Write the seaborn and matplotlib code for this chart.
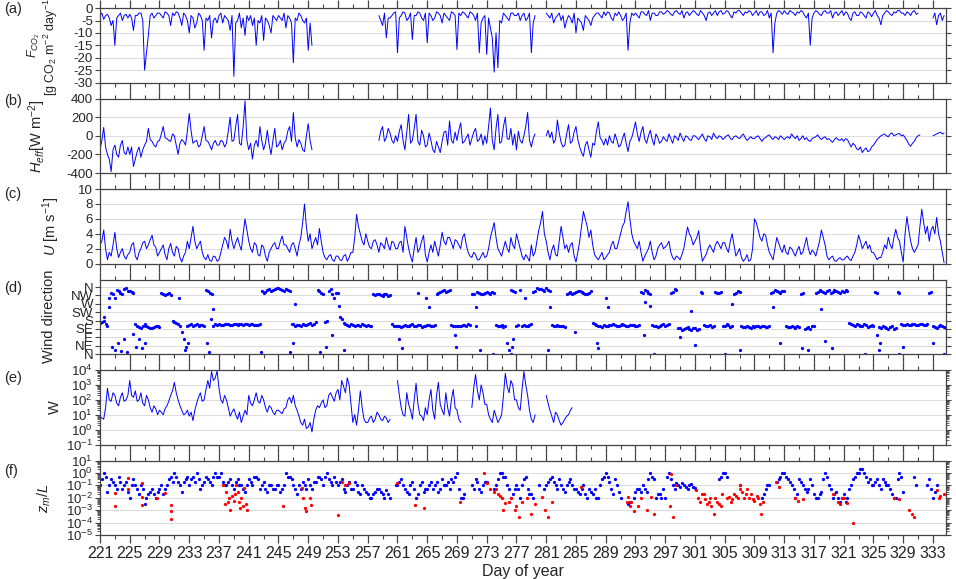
import numpy as np
import pandas as pd
import matplotlib
matplotlib.use("Agg")
import matplotlib.pyplot as plt
from matplotlib.ticker import FixedLocator, LogLocator, NullFormatter
import seaborn as sns

nan = np.nan

# half-day samples of the record, day of year 221 .. 334.5
day = np.arange(221, 334.75, 0.5)
# the same samples shifted by a quarter day
day_q = day + 0.25

# (a) CO2 flux [g CO2 m-2 day-1]
fco2 = [
    -3, -4.5, -2.5, -7, -15, -3, -5, -2.5,          # 221
    -2.5, -9, -3, -2, -25, -11, -2, -3,             # 225
    -2, -4, -2, -7, -3, -2, -7, -3,                 # 229
    -10, -4, -6, -3, -17, -5, -12, -4,              # 233
    -3, -6, -4, -9, -27.5, -5, -8, -11,             # 237
    -5, -7, -15, -6, -13, -5, -10, -4,              # 241
    -3, -5, -8, -4, -22, -5, -3, -6,                # 245
    -17, -15, nan, nan, nan, nan, nan, nan,         # 249
    nan, nan, nan, nan, nan, nan, nan, nan,         # 253
    nan, nan, nan, -3, -7, -12, -4, -2,             # 257
    -18, -3, -2, -4, -12.7, -3, -2, -5,             # 261
    -14, -3, -4, -2, -6, -3, -5, -2,                # 265
    -16.7, -3, -2, -4, -2, -5, -18, -4,             # 269
    -18.7, -8, -25.8, -24, -6, -3, -5, -2,          # 273
    -3, -5, -2, -4, -18, -3, nan, nan,              # 277
    -2, -4, -6, -3, -5, -8, -3, -6,                 # 281
    -10, -5, -9, -4, -7, -3, -2, -4,                # 285
    -3, -2, -5, -3, -3, -4, -17, -2,                # 289
    -2, -4, -1.5, -3, -5, -2, -3, -1.5,             # 293
    -2, -1.5, -3, -1, -2.5, -4, -1.5, -2,           # 297
    -1.5, -3, -2, -5, -1.5, -2, -3, -1,             # 301
    -2, -1.5, -4, -2, -1, -3, -2, -1.5,             # 305
    -2, -3, -1.5, -2.5, -4, -18, -2, -1.5,          # 309
    -1, -2.5, -1.5, -3, -2, -1.5, -4, -15,          # 313
    -2, -1.5, -3, -1, -2, -4, -1.5, -2,             # 317
    -3, -2, -5, -1.5, -3, -2, -4, -2,               # 321
    -2, -3, -6.7, -2, -1.5, -3, -2, -1,             # 325
    -2, -1.5, -3, -1, -2, nan, nan, nan,            # 329
    -4, -6.7, -2, -3,                               # 333
]
fco2_q = [
    -2, -3, -4, -5, -4, -2, -3, -4,
    -4, -3, -2, -5, -18, -3, -4, -2,
    -3, -1.5, -3, -2, -1.5, -4, -2, -5,
    -3, -8, -2, -5, -4, -3, -5, -6,
    -2, -3, -5, -3, -6, -2, -4, -3,
    -3, -4, -5, -3, -4, -7, -3, -5,
    -4, -2, -3, -6, -4, -2, -5, -4,
    -6, nan, nan, nan, nan, nan, nan, nan,
    nan, nan, nan, nan, nan, nan, nan, nan,
    nan, nan, nan, -5, -2, -4, -3, -1.5,
    -4, -1.5, -5, -2, -3, -1.5, -4, -2,
    -2, -5, -1.5, -3, -2, -4, -1.5, -3,
    -2, -1.5, -3, -1.5, -3, -2, -6, -3,
    -4, -12, -10, -5, -2, -4, -2, -3,
    -2, -3, -5, -2, -6, nan, nan, nan,
    -3, -2, -4, -2, -3, -5, -4, -2,
    -4, -6, -3, -5, -4, -2, -3, -1.5,
    -1.5, -4, -2, -1.5, -5, -2, -6, -3,
    -3, -1.5, -2.5, -1, -2, -3, -1.5, -2.5,
    -1, -2.5, -1.5, -2, -1, -2, -3, -1,
    -2.5, -1, -3, -2, -3, -1, -1.5, -2.5,
    -1, -3, -1.5, -1, -2, -1.5, -1, -3,
    -1, -1.5, -3, -1, -2, -6, -1, -2.5,
    -2, -1, -2, -1.5, -1, -3, -2, -4,
    -1, -2.5, -1.5, -2, -1, -2, -3, -1,
    -1.5, -4, -2, -3, -1.5, -3, -1.5, -3.5,
    -1, -4, -3, -1, -2.5, -1.5, -1, -2,
    -3, -2, -1.5, -2.5, nan, nan, nan, nan,
    -2, -3, -5, nan,
]

# (b) effective sensible heat flux [W m-2]
h_eff = [
    -150, 90, -200, -385, -100, -230, -50, -200,
    -200, -330, -170, -230, -100, 80, -60, -120,
    -50, 100, -30, -60, 0, -200, -40, -100,
    240, -80, -50, -100, 100, -60, -150, -50,
    -100, -60, -80, 200, -50, 230, -100, 375,
    -150, -250, -50, 100, -150, 60, -200, 80,
    -100, -150, -50, 100, 250, -120, -80, -170,
    130, -150, nan, nan, nan, nan, nan, nan,
    nan, nan, nan, nan, nan, nan, nan, nan,
    nan, nan, nan, -50, 100, -20, 30, -80,
    -60, 120, -150, 230, -50, 230, -100, 0,
    -100, -50, -180, -120, -60, 50, 160, -80,
    -50, 140, -60, 20, -30, 80, -40, -100,
    -80, 300, -150, 230, -60, 200, -40, -100,
    -150, -50, 0, 250, -120, 20, nan, nan,
    0, -20, -80, 170, -70, -100, 120, -60,
    100, -120, -220, -60, -230, -100, 150, -50,
    -30, 0, -80, -40, -100, 30, -170, -20,
    150, -60, 100, -80, 60, -100, -20, -60,
    -40, 20, -80, -20, 30, -60, -10, -50,
    0, -40, 20, -60, -10, 30, -30, -10,
    -20, 10, -40, 0, -30, 20, -50, -10,
    -30, 0, -60, -20, 10, -40, -20, 0,
    -40, -10, 20, -30, -50, 0, -20, -60,
    -20, 10, -40, -10, -30, -70, -20, -50,
    -60, -40, -120, -100, -150, -180, -130, -160,
    -100, -40, 0, 20, -10, 30, 10, 25,
    10, -50, -112, -60, 0, nan, nan, nan,
    0, 20, 40, 30,
]
h_eff_q = [
    -50, -120, -250, -150, -200, -100, -180, -120,
    -120, -250, -120, -150, -60, -40, -100, -60,
    20, -20, -50, 20, -100, -80, -60, 50,
    50, -60, -120, 0, -50, -100, -80, -100,
    -50, -120, 50, -60, 100, -80, 100, -50,
    -80, -100, -120, -50, -80, -100, -50, -120,
    -50, -80, 50, -60, -20, -40, -150, 0,
    -50, nan, nan, nan, nan, nan, nan, nan,
    nan, nan, nan, nan, nan, nan, nan, nan,
    nan, nan, nan, 50, -60, 80, -50, 0,
    50, -50, 40, -80, 80, -60, 60, -120,
    30, -150, -60, -180, 40, -100, -50, 40,
    60, -80, -20, -100, 40, -60, 20, 0,
    100, -50, 80, -80, 100, -30, 80, 20,
    50, -80, 100, -50, -30, nan, nan, nan,
    60, 40, -40, 30, -120, 20, -80, 40,
    -40, -180, -100, -150, -80, 50, -20, -100,
    -100, -60, 20, -120, -30, -80, -60, 60,
    20, 40, -40, 0, -40, 20, -80, -10,
    -60, -30, 0, -50, -20, 0, -40, 0,
    -20, -10, -30, 0, -40, -10, 0, -40,
    0, -30, -10, -20, 0, -20, -30, -30,
    -10, -30, -30, 0, -20, -10, -40, -20,
    -20, -30, -10, 0, -30, -40, -50, -30,
    -10, -20, -20, -40, -50, -40, -40, -30,
    -30, -80, -80, -140, -120, -150, -170, -120,
    -70, -20, 10, 0, 20, 0, 20, 0,
    -20, -90, -80, -20, 10, nan, nan, nan,
    10, 30, 20, nan,
]

# (c) wind speed [m s-1]
u = [
    2.5, 4.5, 0.5, 1.0, 4.2, 0.8, 2.0, 0.6,
    1.5, 2.8, 0.5, 2.0, 3.0, 2.5, 3.8, 2.2,
    1.5, 2.5, 0.5, 2.7, 1.0, 2.0, 0.2, 1.5,
    2.0, 5.0, 2.0, 3.0, 0.8, 1.2, 0.3, 0.9,
    0.5, 2.5, 3.0, 4.6, 2.0, 3.5, 1.8, 6.0,
    3.0, 1.5, 2.5, 1.0, 2.2, 0.3, 2.0, 2.8,
    2.0, 3.7, 2.5, 1.5, 2.8, 1.0, 3.5, 8.0,
    3.0, 2.0, 3.5, 4.7, 1.5, 0.5, 1.2, 0.3,
    1.0, 0.4, 1.2, 0.8, 1.5, 6.6, 4.0, 2.5,
    3.0, 2.0, 3.2, 1.5, 2.5, 3.5, 1.8, 2.8,
    2.0, 3.0, 5.0, 2.0, 0.2, 3.5, 2.0, 3.8,
    0.2, 2.5, 3.0, 1.0, 4.2, 2.5, 3.5, 2.0,
    3.0, 2.0, 4.0, 1.5, 0.8, 1.2, 0.5, 1.5,
    1.0, 3.5, 5.5, 2.0, 1.0, 3.0, 1.5, 2.5,
    4.0, 2.0, 0.5, 0.8, 2.5, 1.5, 4.5, 7.0,
    3.0, 0.5, 2.5, 1.0, 5.0, 2.0, 1.5, 2.8,
    0.2, 3.0, 7.0, 5.0, 4.5, 1.2, 0.5, 1.5,
    0.8, 1.5, 3.0, 2.0, 4.0, 5.5, 8.3, 4.0,
    2.5, 3.0, 0.3, 1.5, 3.0, 0.5, 2.0, 2.8,
    2.2, 3.0, 0.8, 1.0, 0.5, 2.0, 4.9, 3.5,
    3.0, 4.4, 0.3, 1.2, 2.5, 1.5, 3.0, 2.0,
    2.8, 1.5, 4.0, 1.0, 2.0, 0.3, 1.2, 0.5,
    6.0, 4.5, 3.0, 3.8, 1.5, 0.5, 3.5, 2.0,
    2.5, 1.2, 2.0, 1.0, 2.3, 1.5, 3.5, 1.2,
    1.5, 2.0, 4.5, 2.5, 0.5, 1.0, 0.3, 0.8,
    0.5, 1.0, 0.4, 1.5, 3.8, 2.0, 3.0, 2.5,
    1.5, 0.5, 0.8, 2.5, 3.5, 2.0, 4.6, 3.0,
    0.2, 6.3, 3.0, 1.5, 2.5, 7.3, 4.0, 3.0,
    5.0, 6.2, 3.0, 0.1,
]
u_q = [
    3.0, 2.0, 1.5, 2.5, 2.0, 1.5, 1.0, 1.2,
    2.5, 1.0, 1.5, 2.8, 2.0, 3.2, 2.5, 1.0,
    2.0, 1.2, 2.0, 1.5, 2.3, 0.8, 1.0, 3.0,
    3.5, 3.0, 2.5, 1.5, 0.5, 0.4, 1.0, 0.3,
    1.5, 3.5, 2.0, 3.0, 2.8, 2.5, 4.0, 4.5,
    2.0, 2.8, 1.2, 2.5, 1.0, 1.5, 2.5, 2.0,
    3.0, 2.5, 2.0, 2.5, 2.0, 2.5, 5.5, 5.0,
    4.0, 2.8, 2.5, 3.0, 0.8, 1.0, 0.5, 1.0,
    0.5, 1.0, 0.3, 1.5, 3.5, 5.0, 3.0, 4.0,
    2.2, 3.0, 2.5, 2.8, 2.0, 2.5, 3.0, 2.0,
    2.8, 1.5, 3.5, 1.0, 2.0, 1.5, 3.0, 1.2,
    1.5, 1.5, 2.0, 2.5, 3.0, 3.5, 2.8, 3.2,
    2.5, 3.5, 2.5, 1.0, 1.5, 0.5, 1.0, 0.8,
    2.0, 4.5, 3.5, 1.5, 2.0, 2.0, 3.5, 2.0,
    3.0, 1.0, 1.2, 0.3, 1.0, 3.0, 5.5, 4.0,
    1.5, 1.8, 1.2, 3.0, 3.5, 2.5, 2.5, 1.0,
    1.5, 5.0, 6.0, 3.5, 2.5, 0.8, 1.0, 0.5,
    1.2, 2.5, 2.0, 3.0, 5.0, 7.0, 6.0, 3.0,
    2.0, 1.5, 1.0, 2.0, 1.5, 1.0, 2.5, 2.0,
    2.5, 1.5, 0.5, 0.8, 1.2, 3.5, 4.0, 2.5,
    3.5, 2.0, 0.8, 2.0, 2.0, 2.5, 2.5, 2.8,
    2.0, 3.0, 2.5, 1.5, 0.8, 0.6, 0.3, 2.0,
    5.5, 3.5, 4.0, 2.5, 1.0, 2.0, 2.8, 1.5,
    1.5, 2.2, 1.5, 1.8, 1.2, 2.5, 2.0, 1.8,
    1.0, 3.0, 3.5, 1.0, 0.8, 0.4, 0.6, 0.5,
    0.8, 0.6, 1.0, 2.5, 3.0, 2.5, 2.0, 1.5,
    1.0, 0.8, 1.5, 2.0, 2.5, 3.5, 3.5, 1.5,
    4.0, 4.5, 2.0, 2.0, 5.0, 5.5, 5.0, 4.5,
    4.0, 4.0, 1.5, nan,
]

# (d) wind direction [deg] at the half-day samples
wdir = [
    165, 175, 150, 330, 300, 340, 325, 355,
    340, 330, 150, 140, 160, 145, 140, 150,
    145, 320, 325, 315, 170, 160, 120, 40,
    155, 150, 160, 155, 150, 340, 320, 160,
    160, 158, 162, 158, 160, 157, 162, 160,
    158, 162, 155, 160, 330, 345, 340, 350,
    355, 345, 350, 340, 160, 155, 150, 158,
    160, 155, 170, 340, 320, 180, 350, 300,
    330, 190, 160, 150, 155, 158, 152, 155,
    156, 150, 315, 320, 310, 325, 315, 150,
    150, 145, 155, 150, 160, 148, 155, 150,
    158, 150, 155, 330, 340, 335, 345, 150,
    150, 148, 155, 160, 320, 150, 330, 320,
    335, 325, 330, 150, 155, 150, 20, 340,
    150, 345, 155, 150, 160, 340, 350, 345,
    355, 340, 150, 155, 150, 145, 330, 325,
    335, 340, 330, 325, 340, 160, 150, 145,
    150, 155, 160, 150, 155, 158, 150, 155,
    150, 155, 330, 340, 325, 150, 145, 155,
    150, 160, 335, 345, 140, 135, 145, 130,
    140, 135, 330, 150, 155, 150, 330, 335,
    150, 155, 150, 330, 335, 145, 150, 140,
    145, 150, 148, 145, 150, 335, 340, 330,
    340, 145, 150, 140, 145, 330, 140, 135,
    150, 335, 340, 330, 345, 335, 340, 330,
    335, 340, 160, 150, 155, 150, 155, 150,
    150, 330, 140, 145, 135, 150, 140, 330,
    155, 160, 158, 160, 155, 160, 158, 330,
    150, 140, 155, 145,
]
wdir_q = [
    170, 160, 300, 320, 345, 330, 350, 340,
    335, 160, 145, 150, 150, 140, 145, 148,
    330, 315, 330, 175, 165, 150, 80, 150,
    160, 155, 150, 158, 345, 330, 150, 155,
    157, 163, 160, 155, 161, 159, 158, 162,
    160, 157, 158, 340, 335, 350, 345, 355,
    350, 340, 345, 160, 150, 155, 160, 155,
    165, 160, 345, 330, 170, 340, 320, 330,
    200, 165, 155, 160, 150, 155, 160, 150,
    152, 320, 325, 315, 320, 310, 160, 148,
    150, 152, 148, 158, 150, 155, 145, 152,
    155, 150, 325, 335, 345, 340, 155, 148,
    152, 158, 150, 155, 325, 335, 325, 330,
    330, 335, 155, 150, 145, 60, 345, 335,
    155, 150, 150, 155, 335, 355, 350, 340,
    345, 155, 150, 148, 152, 325, 335, 330,
    340, 335, 320, 330, 165, 155, 150, 155,
    152, 158, 155, 150, 160, 152, 155, 158,
    152, 335, 345, 330, 155, 150, 150, 160,
    155, 330, 350, 140, 130, 140, 135, 140,
    130, 335, 155, 150, 145, 335, 330, 150,
    160, 145, 325, 340, 150, 145, 145, 150,
    150, 145, 150, 145, 330, 345, 335, 340,
    150, 145, 145, 150, 325, 135, 145, 150,
    330, 345, 335, 340, 330, 345, 335, 340,
    345, 165, 155, 160, 150, 160, 145, 155,
    335, 145, 150, 140, 145, 135, 335, 160,
    158, 155, 162, 158, 160, 155, 160, 335,
    145, 150, 150, 140,
]

# (d) scattered wind directions away from the main clusters
wdir_extra_day = [221.6, 222.2, 222.6, 223.0, 223.4, 223.8, 224.2, 224.6, 225.4, 225.8,
                  226.2, 226.6, 227.0, 231.6, 232.4, 232.8, 235.4, 235.6, 235.9, 236.2,
                  242.6, 246.5, 246.9, 247.2, 250.6, 251.4, 252.2, 253.2, 253.8, 261.2,
                  261.6, 263.8, 264.9, 265.3, 268.7, 268.9, 271.6, 272.1, 273.9, 276.2,
                  276.4, 276.6, 278.2, 281.2, 281.5, 284.9, 287.8, 288.0, 289.1, 289.3,
                  294.1, 294.3, 295.0, 295.5, 299.0, 300.5, 301.0, 305.0, 306.0, 307.0,
                  311.5, 312.5, 315.4, 316.2, 318.0, 318.5, 319.4, 323.9, 325.5, 325.7,
                  325.9, 328.5, 329.0, 333.0, 334.5]
wdir_extra_deg = [200, 250, 40, 20, 60, 15, 80, 10, 110, 40,
                  80, 30, 60, 300, 20, 60, 60, 10, 190, 240,
                  10, 10, 60, 270, 10, 40, 100, 260, 20, 80,
                  30, 330, 300, 250, 100, 40, 250, 20, 0, 0,
                  40, 80, 300, 20, 250, 120, 60, 30, 300, 250,
                  100, 280, 260, 0, 90, 230, 50, 0, 270, 20,
                  250, 60, 30, 20, 240, 70, 30, 0, 100, 20,
                  60, 0, 40, 60, 0]

# (e) W, up to day 285
w = [
    8, 5, 600, 80, 200, 40, 300, 100,
    2000, 150, 80, 300, 40, 100, 15, 25,
    20, 10, 40, 200, 1500, 100, 20, 12,
    8, 4, 60, 300, 100, 2000, 8000, 3000,
    600, 60, 100, 8, 25, 5, 3, 20,
    200, 40, 300, 60, 100, 15, 30, 10,
    20, 12, 30, 150, 200, 20, 3, 5,
    1.5, 0.7, 20, 30, 100, 40, 300, 80,
    500, 2000, 300, 1000, 3, 2, 400, 5,
    3, 8, 5, 10, 4, 6, 5, nan,
    2000, 30, 8, 50, 5, 1300, 10, 4,
    10, 500, 5, 1500, 20, 300, 8, 500,
    20, 3, nan, nan, 30, 5000, 100, 300,
    50, 5, 20, 3, 10, 6000, 300, 1000,
    100, 20, 8000, 200, 5, 10, nan, nan,
    200, 20, 3, 10, 2, 5, 10, 30,
] + [nan] * 100
w_q = [
    6, 30, 100, 300, 60, 150, 80, 200,
    200, 400, 100, 60, 200, 30, 40, 10,
    15, 25, 80, 400, 300, 40, 10, 20,
    15, 20, 150, 80, 500, 600, 2000, 9000,
    100, 200, 30, 15, 10, 15, 8, 10,
    60, 100, 80, 200, 30, 40, 15, 20,
    15, 25, 100, 60, 40, 8, 2, 1.2,
    3, 5, 40, 60, 30, 200, 150, 300,
    100, 800, 3000, 50, 10, 20, 30, 3,
    6, 3, 15, 5, 8, 3, nan, nan,
    200, 10, 300, 20, 100, 50, 8, 30,
    100, 20, 200, 50, 10, 30, 100, 30,
    5, nan, nan, nan, 600, 400, 1000, 50,
    10, 3, 8, 5, 200, 800, 2000, 100,
    30, 500, 1000, 20, 3, nan, nan, nan,
    60, 8, 15, 4, 3, 8, 20, nan,
] + [nan] * 100

# (f) z_m/L, blue points at the half-day samples
zl = [
    0.1, 1.0, 0.03, 0.3, 0.1, 0.5, 0.05, 0.2,
    0.01, 0.3, 0.05, 0.1, 0.003, 0.02, 0.05, 0.01,
    0.05, 0.02, 0.1, 0.5, 1.0, 0.2, 0.03, 0.3,
    0.1, 0.5, 1.0, 0.05, 0.2, 0.3, 0.1, 1.0,
    0.5, 0.2, 0.1, 0.3, 0.05, 0.3, 0.1, 0.03,
    0.3, 0.1, 0.5, 0.05, 0.2, 0.03, 0.1, 0.05,
    0.1, 0.05, 1.0, 0.5, 0.1, 0.02, 0.05, 0.1,
    0.3, 0.05, 0.2, 0.5, 0.1, 1.0, 0.2, 0.5,
    0.1, 0.3, 0.03, 0.2, 0.05, 0.1, 0.02, 0.05,
    0.02, 0.01, 0.03, 0.05, 0.02, 0.04, 0.01, nan,
    0.1, 0.3, 0.05, 0.02, 0.2, 0.01, 0.1, 0.03,
    0.05, 0.2, 0.1, 0.03, 0.3, 0.1, 0.05, 0.2,
    1.0, 0.01, 0.02, nan, 0.1, 0.3, 0.05, 0.1,
    0.2, nan, 0.05, 0.3, 1.0, 0.5, 0.05, 0.02,
    0.1, 0.01, 0.3, 0.05, 0.02, nan, 0.1, nan,
    0.1, 0.3, 0.2, 0.05, 0.1, 0.03, 0.2, 0.1,
    0.05, 0.02, 0.1, 0.01, 0.03, 0.05, 0.01, 0.3,
    1.0, 0.2, 0.02, 0.1, 0.01, nan, 0.003, nan,
    0.03, 0.05, 0.1, 0.03, 1.0, 0.3, 0.02, 0.01,
    0.01, 1.0, 0.1, 0.15, 0.08, 0.1, 0.05, 0.12,
    0.06, nan, nan, nan, nan, nan, nan, 0.5,
    1.0, nan, nan, nan, 0.1, nan, nan, nan,
    nan, nan, 0.01, 0.05, 0.1, nan, 0.2, 0.5,
    1.0, 0.3, 0.1, 0.01, 0.3, 0.1, 0.03, 0.3,
    0.02, 0.01, 0.03, 1.0, 0.1, 0.01, 0.03, 0.005,
    0.02, 0.01, 0.1, 0.5, 1.0, 2.0, 0.5, 0.3,
    0.1, 0.3, 0.05, 0.2, 0.1, 0.02, 0.01, 1.0,
    0.03, nan, nan, 0.5, nan, nan, nan, 0.3,
    0.01, 0.1, nan, nan,
]
zl_q = [
    0.3, 0.5, 0.1, 0.2, 0.05, 0.2, 0.1, 0.03,
    0.1, 0.1, 0.02, 0.05, 0.01, 0.03, 0.02, 0.03,
    0.1, 0.05, 0.3, 0.2, 0.5, 0.1, 0.2, 0.5,
    0.3, 0.2, 0.3, 0.1, 0.5, 0.2, 0.5, 0.5,
    1.0, 0.1, 0.2, 0.1, 0.2, 0.1, 0.05, 0.1,
    0.2, 0.5, 0.3, 0.1, 0.05, 0.1, 0.05, 0.1,
    0.03, 0.1, 0.5, 0.3, 0.05, 0.1, 0.2, 0.05,
    0.1, 0.2, 0.5, 0.3, 0.5, 0.3, 0.1, 0.2,
    0.2, 0.05, 0.1, 0.05, 0.2, 0.03, 0.1, 0.03,
    0.01, 0.02, 0.05, 0.03, 0.01, 0.02, nan, 0.1,
    0.2, 0.1, 0.03, 0.1, 0.05, 0.02, 0.2, 0.05,
    0.1, 0.05, 0.2, 0.05, 0.1, 0.2, 0.3, 0.5,
    0.05, 0.01, nan, nan, 0.05, 0.2, 0.03, 0.2,
    nan, nan, 0.1, 1.0, 0.5, 0.1, 0.01, 0.05,
    0.05, 0.1, 0.5, 0.02, 0.01, nan, nan, 0.05,
    0.2, 0.5, 0.1, 0.3, 0.05, 0.1, 0.3, 0.05,
    0.03, 0.05, 0.02, 0.05, 0.02, 0.01, 0.1, 0.5,
    0.5, 0.05, 0.3, 0.03, nan, nan, 0.005, 0.01,
    0.05, 0.03, 0.05, 0.3, 0.5, 0.01, 0.02, 0.05,
    0.5, 0.3, 0.05, 0.1, 0.15, 0.07, 0.1, 0.08,
    nan, nan, nan, nan, nan, nan, 0.3, 1.0,
    0.5, nan, nan, nan, nan, nan, nan, nan,
    nan, nan, 0.02, 0.1, nan, nan, 0.3, 1.0,
    0.5, 0.2, 0.05, 0.02, 0.2, 0.05, 0.05, 0.1,
    0.01, 0.02, 0.3, 0.5, 0.05, 0.02, 0.01, 0.01,
    0.005, 0.05, 0.3, 1.0, 2.0, 1.0, 0.2, 0.1,
    0.2, 0.1, 0.3, 0.1, 0.05, 0.01, 0.3, 0.5,
    nan, nan, nan, 0.1, nan, nan, 0.1, 0.05,
    0.03, nan, nan, nan,
]

# (f) z_m/L, red points
zl_red_day = [223.0, 223.0, 224.8, 224.8, 226.6, 226.6, 226.7, 228.6, 229.7, 230.6,
              230.6, 230.6, 237.6, 237.8, 238.0, 238.3, 238.5, 238.8, 239.0, 239.3,
              239.5, 239.8, 240.0, 240.3, 240.6, 240.7, 245.6, 248.1, 248.3, 248.5,
              248.7, 249.2, 249.4, 253.0, 253.5, 254.0, 254.5, 260.9, 263.4, 264.5,
              269.4, 272.6, 273.0, 273.5, 274.0, 274.5, 275.0, 275.5, 275.2, 276.3,
              276.8, 277.3, 277.8, 278.4, 279.0, 279.5, 280.4, 280.8, 281.2, 281.8,
              285.7, 292.0, 292.4, 292.8, 293.3, 294.6, 293.8, 295.1, 295.5, 297.6,
              298.0, 297.8, 298.4, 301.2, 301.7, 302.2, 302.6, 303.0, 303.5, 304.0,
              304.5, 305.6, 306.0, 306.5, 307.0, 307.3, 307.6, 308.0, 308.5, 309.0,
              309.5, 309.9, 311.9, 312.3, 314.8, 315.5, 319.6, 320.2, 320.8, 321.5,
              322.2, 327.8, 328.5, 329.8, 330.2, 330.5, 333.5, 334.0, 334.5,
              301.4, 301.9, 302.4, 302.9, 303.2, 303.7, 304.2, 304.7, 305.3, 305.8,
              306.2, 306.8, 307.1, 307.8, 308.2, 308.8, 309.3, 309.7, 310.2, 291.8,
              292.2, 276.0, 277.0, 274.2, 274.8, 238.2, 239.2, 239.7, 240.2, 320.5,
              321.0, 333.8, 314.5]
zl_red = [0.025, 0.002, 0.4, 0.05, 0.15, 0.012, 0.0025, 0.01, 0.025, 0.0025,
          0.0008, 0.0002, 0.1, 0.003, 0.03, 0.01, 0.001, 0.015, 0.006, 0.1,
          0.03, 0.0015, 0.01, 0.06, 0.003, 0.001, 0.002, 0.06, 0.01, 0.0015,
          0.0008, 0.01, 0.0025, 0.0004, 0.2, 0.1, 0.15, 0.15, 0.0025, 0.0015,
          0.005, 1.0, 0.15, 0.05, 0.03, 0.02, 0.01, 0.004, 0.001, 0.01,
          0.001, 0.0003, 0.005, 0.01, 0.0005, 0.003, 0.012, 0.001, 0.0003, 0.005,
          0.08, 0.012, 0.005, 0.0008, 0.002, 0.001, 0.01, 0.012, 0.0005, 0.002,
          0.0003, 0.8, 0.1, 0.04, 0.005, 0.02, 0.003, 0.01, 0.0005, 0.005,
          0.002, 0.012, 0.008, 0.015, 0.1, 0.03, 0.01, 0.05, 0.02, 0.006,
          0.01, 0.0005, 0.2, 0.08, 0.006, 0.008, 0.02, 0.005, 0.01, 0.004,
          0.0001, 0.01, 0.008, 0.001, 0.0005, 0.0003, 0.04, 0.015, 0.02,
          0.01, 0.02, 0.008, 0.005, 0.002, 0.01, 0.003, 0.02, 0.01, 0.005,
          0.02, 0.01, 0.05, 0.02, 0.01, 0.008, 0.015, 0.003, 0.005, 0.005,
          0.002, 0.005, 0.002, 0.05, 0.015, 0.005, 0.02, 0.005, 0.002, 0.003,
          0.01, 0.01, 0.01]

major_days = np.arange(221, 335, 4)
minor_days = np.arange(223, 335, 4)
dir_ticks = [0, 45, 90, 135, 180, 225, 270, 315, 360]
dir_labels = ["N", "NE", "E", "SE", "S", "SW", "W", "NW", "N"]

sns.set_style("ticks")
plt.rcParams["font.family"] = ["Liberation Sans", "DejaVu Sans"]
plt.rcParams["mathtext.fontset"] = "custom"
plt.rcParams["mathtext.rm"] = "Liberation Sans"
plt.rcParams["mathtext.it"] = "Liberation Sans:italic"
plt.rcParams["mathtext.bf"] = "Liberation Sans:bold"
plt.rcParams["axes.unicode_minus"] = False

BLUE = "#0000ff"
RED = "#ff0000"
EDGE = "#444444"


def as_segments(values, values_q):
    # merge half-day and quarter-day samples, then split at gaps so lines break there
    frame = pd.DataFrame({"day": np.concatenate([day, day_q]),
                          "val": np.concatenate([values, values_q]).astype(float)})
    frame = frame.sort_values("day").reset_index(drop=True)
    frame["seg"] = frame["val"].isna().cumsum()
    return frame.dropna()


fig, axes = plt.subplots(6, 1, figsize=(9.56, 5.79), dpi=100, sharex=True)
plt.subplots_adjust(left=0.1046, right=0.9895, top=0.986, bottom=0.076, hspace=0.216)
ax_a, ax_b, ax_c, ax_d, ax_e, ax_f = axes

for ax, vals, vals_q in [(ax_a, fco2, fco2_q), (ax_b, h_eff, h_eff_q), (ax_c, u, u_q), (ax_e, w, w_q)]:
    sns.lineplot(data=as_segments(vals, vals_q), x="day", y="val", units="seg", estimator=None,
                 color=BLUE, lw=0.7, ax=ax, legend=False)

pt = dict(s=5.5, linewidth=0, legend=False)
sns.scatterplot(x=day, y=wdir, color=BLUE, ax=ax_d, **pt)
sns.scatterplot(x=day_q, y=wdir_q, color=BLUE, ax=ax_d, **pt)
sns.scatterplot(x=wdir_extra_day, y=wdir_extra_deg, color=BLUE, ax=ax_d, **pt)

sns.scatterplot(x=day, y=zl, color=BLUE, ax=ax_f, **pt)
sns.scatterplot(x=day_q, y=zl_q, color=BLUE, ax=ax_f, **pt)
sns.scatterplot(x=zl_red_day, y=zl_red, color=RED, ax=ax_f, **pt)

# y axes
ax_a.set_ylim(-30, 0)
ax_a.set_yticks(np.arange(-30, 1, 5))
ax_b.set_ylim(-400, 400)
ax_b.set_yticks([-400, -200, 0, 200, 400])
ax_c.set_ylim(0, 10)
ax_c.set_yticks([0, 2, 4, 6, 8, 10])
ax_d.set_ylim(0, 400)
ax_d.set_yticks(dir_ticks)
ax_d.set_yticklabels(dir_labels)
for ax, lo, hi in [(ax_e, 1e-1, 1e4), (ax_f, 1e-5, 1e1)]:
    ax.set_yscale("log")
    ax.set_ylim(lo, hi)
    ax.yaxis.set_major_locator(LogLocator(base=10, numticks=12))
    ax.yaxis.set_minor_locator(LogLocator(base=10, subs=np.arange(2, 10), numticks=12))
    ax.yaxis.set_minor_formatter(NullFormatter())

for ax in axes:
    ax.set_xlim(221, 334.75)
    ax.xaxis.set_major_locator(FixedLocator(major_days))
    ax.xaxis.set_minor_locator(FixedLocator(minor_days))
    ax.tick_params(axis="x", which="both", direction="out", top=True, bottom=True, color=EDGE)
    ax.tick_params(axis="x", which="major", length=5.8, width=0.9)
    ax.tick_params(axis="x", which="minor", length=3.2, width=0.8)
    ax.tick_params(axis="y", which="both", direction="out", left=True, right=True,
                   color=EDGE, labelsize=9.5, pad=1.5)
    ax.tick_params(axis="y", which="major", length=3.5, width=0.8)
    ax.tick_params(axis="y", which="minor", length=2.5, width=0.6)
    ax.grid(axis="y", which="major", color="#dddddd", lw=0.8)
    ax.grid(axis="x", visible=False)
    ax.set_axisbelow(True)
    ax.set_xlabel("")
    ax.set_ylabel("")
    for sp in ax.spines.values():
        sp.set_color(EDGE)
        sp.set_linewidth(0.9)

ax_f.tick_params(axis="x", which="major", labelsize=11.5, pad=2)
ax_f.set_xlabel("Day of year", fontsize=11.5, labelpad=2)

ylabels = [
    (ax_a, r"$F_{CO_2}$" + "\n" + r"[g CO$_2$ m$^{-2}$ day$^{-1}$]", -0.047, 9),
    (ax_b, r"$H_{eff}$[W m$^{-2}$]", -0.062, 10.5),
    (ax_c, r"$U$ [m s$^{-1}$]", -0.045, 10.5),
    (ax_d, "Wind direction", -0.052, 10.5),
    (ax_e, "W", -0.045, 10.5),
    (ax_f, r"$z_m$/$L$", -0.055, 10.5),
]
for ax, text, xpos, size in ylabels:
    ax.set_ylabel(text, fontsize=size, linespacing=1.0)
    ax.yaxis.set_label_coords(xpos, 0.5)

for letter, ypix in zip("abcdef", [9, 101, 194, 288, 378, 471]):
    fig.text(0.004, 1 - ypix / 579, f"({letter})", fontsize=10.5, va="center", ha="left")

fig.savefig("out.png", dpi=100)
